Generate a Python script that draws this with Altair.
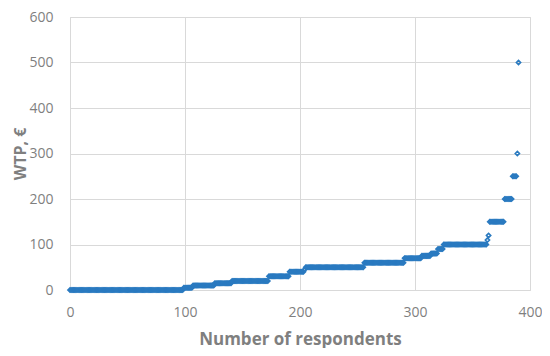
import altair as alt
import pandas as pd

# WTP levels (sorted) and how many respondents sit at each level
wtp_levels = [0, 5, 10, 15, 20, 30, 40, 45, 50, 60, 70, 75, 80, 90, 100, 110, 120, 150, 200, 250, 300, 500]
wtp_counts = [99, 8, 19, 15, 32, 18, 13, 1, 51, 35, 15, 8, 6, 5, 38, 1, 1, 13, 7, 4, 1, 1]

x_ticks = [0, 100, 200, 300, 400]
y_ticks = [0, 100, 200, 300, 400, 500, 600]

wtp = []
for v, c in zip(wtp_levels, wtp_counts):
    wtp.extend([v] * c)
df = pd.DataFrame({"respondent": list(range(len(wtp))), "wtp": wtp})

FONT = "Open Sans"
GRAY = "#7f7f7f"

chart = (
    alt.Chart(df)
    .mark_point(shape="diamond", filled=False, size=18, strokeWidth=1.6, color="#2a7ac0", opacity=1)
    .encode(
        x=alt.X(
            "respondent:Q",
            scale=alt.Scale(domain=[0, 400], nice=False),
            axis=alt.Axis(
                values=x_ticks, title="Number of respondents", grid=True, ticks=False, domain=False,
                labelPadding=15, titlePadding=12, labelFlush=False, titleFontSize=17,
            ),
        ),
        y=alt.Y(
            "wtp:Q",
            scale=alt.Scale(domain=[0, 600], nice=False),
            axis=alt.Axis(
                values=y_ticks, title="WTP, €", grid=True, ticks=False, domain=False,
                labelPadding=17, titlePadding=0, labelFlush=False, titleFontSize=16,
            ),
        ),
    )
    .properties(
        width=460,
        height=273,
        autosize=alt.AutoSizeParams(type="none"),
        padding={"left": 62, "top": 9, "right": 12, "bottom": 58},
    )
    .configure_view(stroke="#d9d9d9", strokeWidth=1)
    .configure_axis(
        gridColor="#d9d9d9",
        gridWidth=1,
        labelFont=FONT,
        labelFontSize=14,
        labelColor=GRAY,
        titleFont=FONT,
        titleFontWeight="bold",
        titleColor=GRAY,
    )
)

chart.save("out.html", embed_options={"renderer": "svg", "actions": False})
